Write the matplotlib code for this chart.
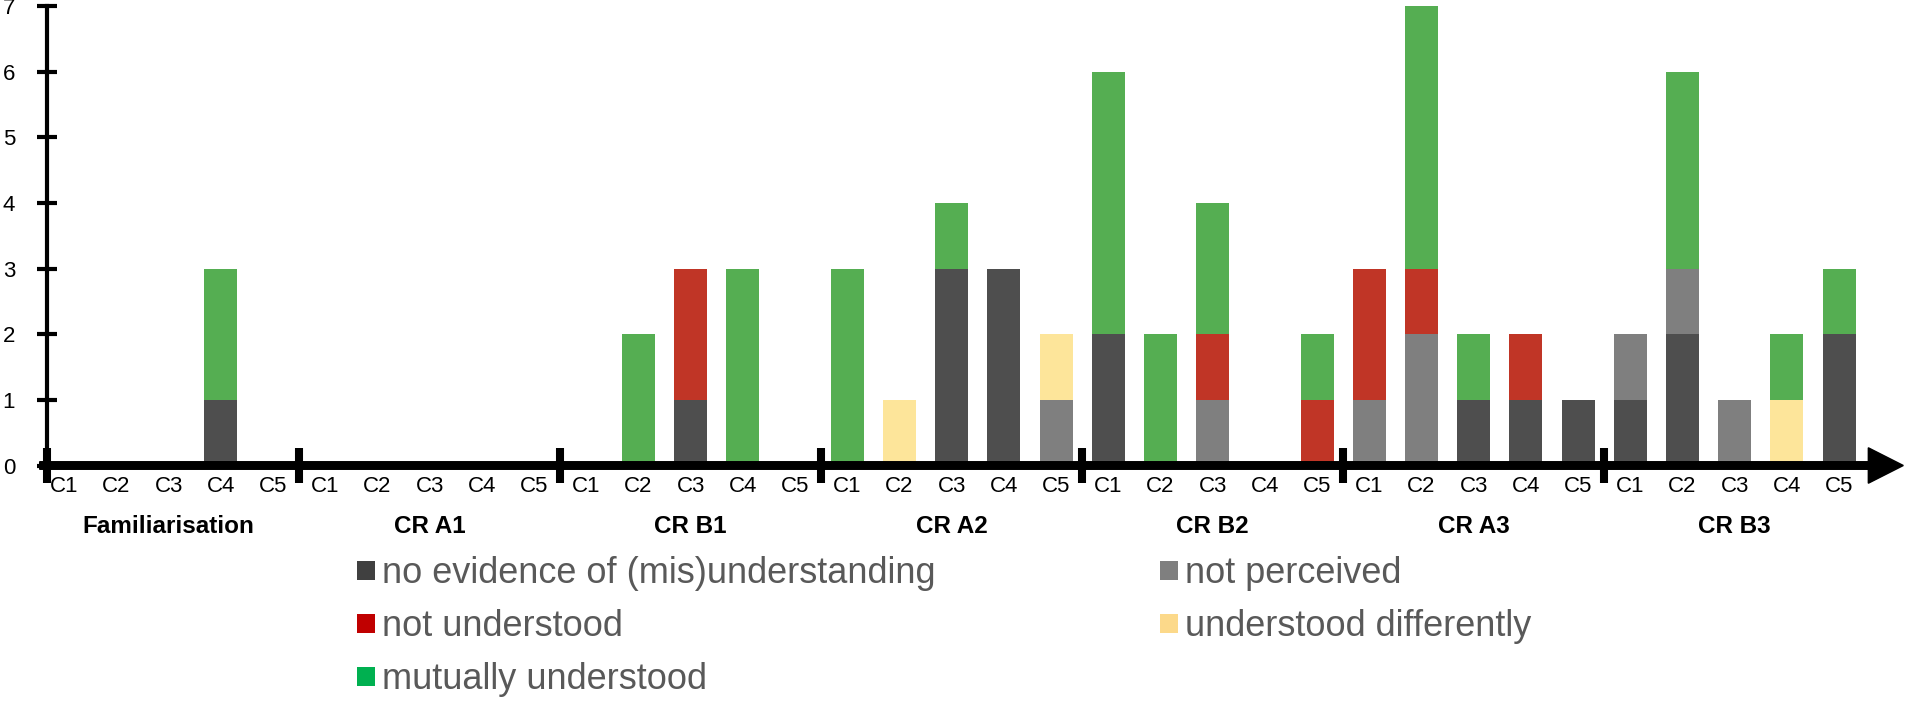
import matplotlib
matplotlib.use("Agg")
import matplotlib.pyplot as plt
from matplotlib.patches import Patch
import numpy as np

plt.rcParams['font.family'] = ['Liberation Sans', 'DejaVu Sans']

groups = ['Familiarisation', 'CR A1', 'CR B1', 'CR A2', 'CR B2', 'CR A3', 'CR B3']
codes = ['C1', 'C2', 'C3', 'C4', 'C5']

# one value per code, groups in order above (7 x 5 = 35 bars)
no_evidence = [0, 0, 0, 1, 0,
               0, 0, 0, 0, 0,
               0, 0, 1, 0, 0,
               0, 0, 3, 3, 0,
               2, 0, 0, 0, 0,
               0, 0, 1, 1, 1,
               1, 2, 0, 0, 2]
not_perceived = [0, 0, 0, 0, 0,
                 0, 0, 0, 0, 0,
                 0, 0, 0, 0, 0,
                 0, 0, 0, 0, 1,
                 0, 0, 1, 0, 0,
                 1, 2, 0, 0, 0,
                 1, 1, 1, 0, 0]
understood_diff = [0, 0, 0, 0, 0,
                   0, 0, 0, 0, 0,
                   0, 0, 0, 0, 0,
                   0, 1, 0, 0, 1,
                   0, 0, 0, 0, 0,
                   0, 0, 0, 0, 0,
                   0, 0, 0, 1, 0]
not_understood = [0, 0, 0, 0, 0,
                  0, 0, 0, 0, 0,
                  0, 0, 2, 0, 0,
                  0, 0, 0, 0, 0,
                  0, 0, 1, 0, 1,
                  2, 1, 0, 1, 0,
                  0, 0, 0, 0, 0]
mutually = [0, 0, 0, 2, 0,
            0, 0, 0, 0, 0,
            0, 2, 0, 3, 0,
            3, 0, 1, 0, 0,
            4, 2, 2, 0, 1,
            0, 4, 1, 0, 0,
            0, 3, 0, 1, 1]

series = [
    ('no evidence of (mis)understanding', no_evidence, '#4e4e4e', '#404040'),
    ('not perceived', not_perceived, '#7f7f7f', '#7f7f7f'),
    ('understood differently', understood_diff, '#fde59a', '#fcd98a'),
    ('not understood', not_understood, '#c03526', '#c00000'),
    ('mutually understood', mutually, '#55ae52', '#00b050'),
]

fig = plt.figure(figsize=(19.08, 7.04), dpi=100)
ax = fig.add_axes([47 / 1908, 0.3108, 1861 / 1908, 0.6807])

x = np.arange(len(groups) * len(codes))
bottom = np.zeros(len(x))
for name, vals, col, _ in series:
    vals = np.array(vals, dtype=float)
    ax.bar(x, vals, 0.63, bottom=bottom, color=col, zorder=2)
    bottom += vals

ax.set_xlim(-0.33, 35.32)
ax.set_ylim(-0.3, 7)

for s in ['top', 'right', 'bottom']:
    ax.spines[s].set_visible(False)
ax.spines['left'].set_linewidth(3)
ax.spines['left'].set_bounds(0, 7)
ax.spines['left'].set_position(('data', -0.33))
ax.set_yticks(range(8))
ax.tick_params(axis='y', direction='inout', length=14, width=3, pad=16, labelsize=16)
ax.set_xticks([])

# x axis arrow
ax.arrow(-0.47, 0, 35.7, 0, width=0.115, head_width=0.54, head_length=0.67,
         length_includes_head=True, color='black', clip_on=False, zorder=3)

# group separators
seps = [-0.33] + [g * 5 - 0.5 for g in range(1, len(groups))]
ax.vlines(seps, -0.267, 0.267, color='black', lw=5.8, zorder=4, clip_on=False)

for i in x:
    ax.text(i, -0.405, codes[i % 5], ha='center', va='baseline', fontsize=16)
for g, name in enumerate(groups):
    ax.text(g * 5 + 2, -1.03, name, ha='center', va='baseline', fontsize=17.5,
            fontweight='bold')

handles = [Patch(facecolor=lc, label=name) for name, _, _, lc in series]
order = [0, 3, 4, 1, 2]
leg = fig.legend([handles[k] for k in order], [handles[k].get_label() for k in order],
                 ncol=2, loc='upper left', bbox_to_anchor=(357 / 1908, 0.21),
                 frameon=False, fontsize=26, borderpad=0, borderaxespad=0,
                 handlelength=0.5, handleheight=0.42, handletextpad=0.2,
                 labelspacing=0.5, columnspacing=6.2)
for t in leg.get_texts():
    t.set_color('#595959')

fig.savefig('out.png', dpi=100)
